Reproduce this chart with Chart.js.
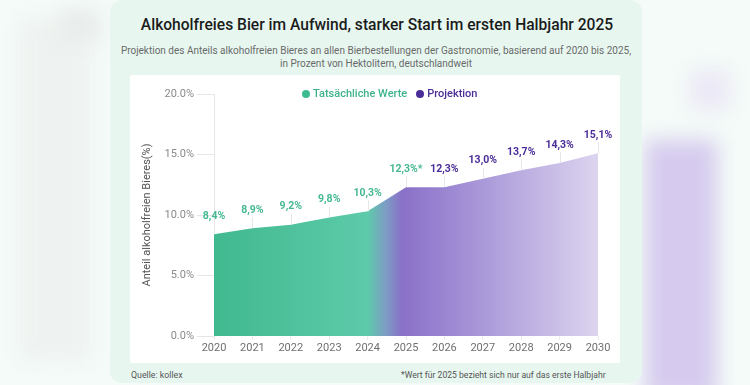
<!DOCTYPE html>
<html><head><meta charset="utf-8">
<script src="https://cdn.jsdelivr.net/npm/chart.js@4.4.1/dist/chart.umd.min.js"></script>
<style>
html,body{margin:0;padding:0;width:750px;height:385px;overflow:hidden;background:#f4fbf8;font-family:Roboto,"Noto Sans",sans-serif;}
.blur{position:absolute;filter:blur(10px);}
#card{position:absolute;left:110px;top:0px;width:532px;height:383px;background:#e7f7f0;border-radius:12px;}
#panel{position:absolute;left:130px;top:75px;width:490px;height:288px;background:#fff;border-radius:2px;}
#title{position:absolute;left:110px;width:534px;top:16px;text-align:center;font-size:15.6px;font-weight:500;color:#1b1b1b;white-space:nowrap;}
#sub{position:absolute;left:110px;width:532px;top:44px;text-align:center;font-size:10px;line-height:13px;color:#6a6a6a;white-space:nowrap;}
#legend{position:absolute;top:87px;left:302px;font-size:11px;font-weight:500;white-space:nowrap;}
#legend span{margin-right:9px;}
.dot{display:inline-block;width:8px;height:8px;border-radius:50%;margin-right:3px;vertical-align:-0.5px;}
#src{position:absolute;left:131px;top:370px;font-size:8.8px;color:#555;}
#note{position:absolute;left:401px;top:370px;font-size:8.6px;color:#555;white-space:nowrap;}
#wrap{position:absolute;left:130px;top:75px;width:490px;height:288px;}
</style></head>
<body>
<div class="blur" style="left:20px;top:20px;width:70px;height:340px;background:#eef2f0;"></div>
<div class="blur" style="left:60px;top:10px;width:40px;height:30px;background:#e8ecea;"></div>
<div class="blur" style="left:645px;top:140px;width:72px;height:260px;background:#d6cbee;"></div>
<div class="blur" style="left:690px;top:70px;width:40px;height:40px;background:#ece8f6;"></div>
<div id="card"></div>
<div id="title">Alkoholfreies Bier im Aufwind, starker Start im ersten Halbjahr 2025</div>
<div id="sub">Projektion des Anteils alkoholfreien Bieres an allen Bierbestellungen der Gastronomie, basierend auf 2020 bis 2025,<br>in Prozent von Hektolitern, deutschlandweit</div>
<div id="panel"></div>
<div id="wrap"><canvas id="c" width="490" height="288"></canvas></div>
<div id="legend"><span style="color:#3db38b"><i class="dot" style="background:#3dbb8f"></i>Tatsächliche Werte</span><span style="color:#4a2d98"><i class="dot" style="background:#4a2d98"></i>Projektion</span></div>
<div id="src">Quelle: kollex</div>
<div id="note">*Wert für 2025 bezieht sich nur auf das erste Halbjahr</div>
<script>
const years = ['2020','2021','2022','2023','2024','2025','2026','2027','2028','2029','2030'];
const shareValues = [8.4, 8.9, 9.2, 9.8, 10.3, 12.3, 12.3, 13.0, 13.7, 14.3, 15.1];
const valueLabels = ['8,4%','8,9%','9,2%','9,8%','10,3%','12,3%*','12,3%','13,0%','13,7%','14,3%','15,1%'];
const lastActualIndex = 5;
const yTickValues = [0, 5, 10, 15, 20];

const labelPlugin = {
  id: 'valueLabels',
  afterDatasetsDraw(chart) {
    const ctx = chart.ctx;
    const meta = chart.getDatasetMeta(0);
    ctx.save();
    meta.data.forEach((pt, i) => {
      const ly = pt.y - 18;
      ctx.strokeStyle = '#e6e6e6';
      ctx.lineWidth = 1;
      ctx.beginPath();
      ctx.moveTo(Math.round(pt.x) + 0.5, ly + 7);
      ctx.lineTo(Math.round(pt.x) + 0.5, pt.y);
      ctx.stroke();
      ctx.font = '700 10.5px Roboto';
      ctx.textAlign = 'center';
      ctx.textBaseline = 'middle';
      ctx.fillStyle = i <= lastActualIndex ? '#46b991' : '#4a2d98';
      ctx.fillText(valueLabels[i], pt.x, ly);
    });
    ctx.restore();
  }
};

new Chart(document.getElementById('c'), {
  type: 'line',
  data: {
    labels: years,
    datasets: [{
      data: shareValues,
      fill: 'origin',
      borderWidth: 0,
      pointRadius: 0,
      tension: 0,
      backgroundColor: (c) => {
        const ca = c.chart.chartArea;
        if (!ca) return '#46bb93';
        const g = c.chart.ctx.createLinearGradient(ca.left, 0, ca.right, 0);
        g.addColorStop(0, '#41b98f');
        g.addColorStop(0.40, '#5dcaa9');
        g.addColorStop(0.445, '#7c9fc4');
        g.addColorStop(0.49, '#8a70c8');
        g.addColorStop(0.62, '#9d89d3');
        g.addColorStop(1, '#dcd4ef');
        return g;
      }
    }]
  },
  options: {
    responsive: false,
    animation: false,
    layout: { padding: { top: 19, right: 22, left: 0, bottom: 0 } },
    plugins: { legend: { display: false }, tooltip: { enabled: false } },
    scales: {
      x: {
        offset: false,
        border: { display: false },
        grid: { drawOnChartArea: false, tickLength: 4, color: '#ececec' },
        ticks: { color: '#6f6f6f', font: { family: 'Roboto', size: 11 }, padding: 2, maxRotation: 0 },
        afterFit: (s) => { s.height = 27; }
      },
      y: {
        min: 0, max: 20,
        afterBuildTicks: (s) => { s.ticks = yTickValues.map(v => ({ value: v })); },
        border: { display: true, color: '#e6e6e6' },
        grid: { drawOnChartArea: false, tickLength: 17, color: '#e6e6e6' },
        ticks: { color: '#8a8a8a', font: { family: 'Roboto', size: 11 }, padding: 3, callback: (v) => v.toFixed(1) + '%' },
        title: { display: true, text: 'Anteil alkoholfreien Bieres(%)', color: '#555', font: { family: 'Roboto', size: 11 }, padding: { top: 11, bottom: 0 } },
        afterFit: (s) => { s.width = 84; }
      }
    }
  },
  plugins: [labelPlugin]
});
</script>
</body></html>
